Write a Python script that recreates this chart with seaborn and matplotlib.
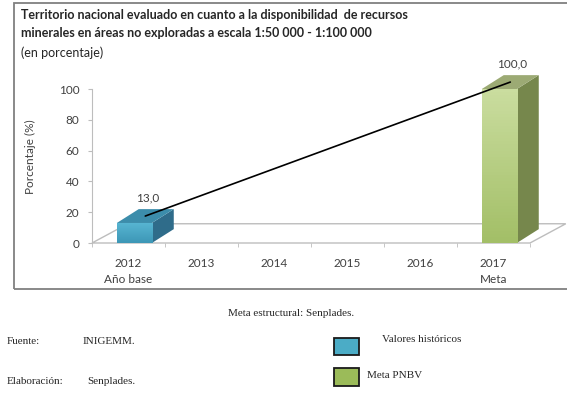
import seaborn as sns
import matplotlib.pyplot as plt
import pandas as pd
import numpy as np
from matplotlib.patches import Polygon, Rectangle
from matplotlib.colors import LinearSegmentedColormap

years = ['2012', '2013', '2014', '2015', '2016', '2017']
year_notes = ['Año base', '', '', '', '', 'Meta']
bar_years = ['2012', '2017']
bar_values = [13.0, 100.0]
bar_series = ['Valores históricos', 'Meta PNBV']
bar_labels = ['13,0', '100,0']
y_ticks = [0, 20, 40, 60, 80, 100]

# colours for the fake 3d boxes: front (top, bottom), top face, side face
front_cols = {'Valores históricos': ('#58b6d3', '#3d97b6'), 'Meta PNBV': ('#cadd9f', '#a3bf67')}
top_cols = {'Valores históricos': '#3c8dab', 'Meta PNBV': '#9caa74'}
side_cols = {'Valores históricos': '#2f6c8a', 'Meta PNBV': '#76874c'}
legend_cols = {'Valores históricos': '#4bacc6', 'Meta PNBV': '#9bbb59'}

sns.set_style('white')
plt.rcParams['font.family'] = ['Lato', 'DejaVu Sans']

fig = plt.figure(figsize=(5.67, 3.94), dpi=100)
ax = fig.add_axes([92 / 567, 151 / 394, 438 / 567, 154 / 394])

df = pd.DataFrame({'year': bar_years, 'value': bar_values, 'serie': bar_series})
sns.barplot(data=df, x='year', y='value', hue='serie', order=years, dodge=False,
            palette=legend_cols, width=0.48, legend=False, ax=ax, zorder=3)

ax.set_xlim(-0.5, 5.5)
ax.set_ylim(0, 100)

# depth of the boxes / floor, in data units
ddx, ddy = 0.30, 9.0
fdx, fdy = 0.49, 12.5
shift = 0.08

floor = Polygon([(-0.5, 0), (5.5, 0), (5.5 + fdx, fdy), (-0.5 + fdx, fdy)], closed=True,
                facecolor='white', edgecolor='#bdbdbd', lw=1.0, clip_on=False, zorder=1)
ax.add_patch(floor)

tops = []
for p in ax.patches:
    if p is floor or p.get_height() == 0 or np.isnan(p.get_height()):
        continue
    x0 = p.get_x() + shift
    p.set_x(x0)
    w, h = p.get_width(), p.get_height()
    serie = bar_series[bar_values.index(h)]
    p.set_edgecolor('none')
    cmap = LinearSegmentedColormap.from_list('g', [front_cols[serie][1], front_cols[serie][0]])
    img = ax.imshow(np.linspace(0, 1, 50).reshape(-1, 1), extent=[x0, x0 + w, 0, h], origin='lower',
                    aspect='auto', cmap=cmap, zorder=3.5)
    img.set_clip_path(p)
    ax.add_patch(Polygon([(x0 + w, 0), (x0 + w + ddx, ddy), (x0 + w + ddx, h + ddy), (x0 + w, h)],
                         closed=True, facecolor=side_cols[serie], edgecolor='none', clip_on=False, zorder=3))
    ax.add_patch(Polygon([(x0, h), (x0 + w, h), (x0 + w + ddx, h + ddy), (x0 + ddx, h + ddy)],
                         closed=True, facecolor=top_cols[serie], edgecolor='none', clip_on=False, zorder=3))
    tops.append((x0 + w / 2 + ddx / 2, h + ddy / 2))

ax.set_xlim(-0.5, 5.5)
ax.set_ylim(0, 100)

# trend line between the tops of both boxes
tx = [t[0] for t in tops]
ty = [t[1] for t in tops]
ax.plot(tx, ty, color='black', lw=1.2, clip_on=False, zorder=6)

for (x, y), lab in zip(tops, bar_labels):
    ax.text(x + 0.03, y + ddy / 2 + 7, lab, ha='center', va='center', fontsize=8.5,
            color='#404040', zorder=7)

sns.despine(ax=ax, bottom=True)
ax.spines['left'].set_color('#bdbdbd')
ax.set_yticks(y_ticks)
ax.set_yticklabels([str(v) for v in y_ticks])
ax.tick_params(axis='y', left=True, length=3, color='#bdbdbd', labelsize=8.5, labelcolor='#404040', pad=6)
ax.set_xticks(range(len(years)))
ax.set_xticklabels([y + ('\n' + n if n else '') for y, n in zip(years, year_notes)],
                   fontsize=8.5, color='#404040', va='top', linespacing=1.5)
ax.set_xticks(np.arange(-0.5, 6, 1), minor=True)
ax.tick_params(axis='x', which='major', length=0, pad=11)
ax.tick_params(axis='x', which='minor', bottom=True, length=3, color='#bdbdbd')
ax.set_xlabel('')
ax.set_ylabel('Porcentaje (%)', fontsize=8.5, color='#404040')
ax.yaxis.set_label_coords(-0.128, 0.56)

# outer frame and titles
fig.patches.append(Rectangle((14 / 567, 105 / 394), 1.0, 286 / 394, transform=fig.transFigure,
                             fill=False, edgecolor='#808080', lw=1.3))
fig.text(21 / 567, 1 - 15 / 394, 'Territorio nacional evaluado en cuanto a la disponibilidad  de recursos',
         fontsize=9, fontweight='bold', color='#262626', va='center')
fig.text(21 / 567, 1 - 33 / 394, 'minerales en áreas no exploradas a escala 1:50 000 - 1:100 000',
         fontsize=9, fontweight='bold', color='#262626', va='center')
fig.text(21 / 567, 1 - 53 / 394, '(en porcentaje)', fontsize=9, color='#262626', va='center')

# notes and legend below the frame
serif = ['Liberation Serif', 'DejaVu Serif']
fig.text(291 / 567, 1 - 313 / 394, 'Meta estructural: Senplades.', family=serif, fontsize=8,
         ha='center', va='center', color='#262626')
fig.text(7 / 567, 1 - 341 / 394, 'Fuente:', family=serif, fontsize=8, va='center', color='#262626')
fig.text(83 / 567, 1 - 341 / 394, 'INIGEMM.', family=serif, fontsize=8, va='center', color='#262626')
fig.text(7 / 567, 1 - 382 / 394, 'Elaboración:', family=serif, fontsize=8, va='center', color='#262626')
fig.text(87 / 567, 1 - 382 / 394, 'Senplades.', family=serif, fontsize=8, va='center', color='#262626')

legend_y = [(338, 355, 340, 382), (368, 386, 376, 367)]
for serie, (top, bot, ty_, tx_) in zip(bar_series, legend_y):
    fig.patches.append(Rectangle((334 / 567, 1 - bot / 394), 25 / 567, (bot - top) / 394,
                                 transform=fig.transFigure, facecolor=legend_cols[serie],
                                 edgecolor='#1a1a1a', lw=1.3))
    fig.text(tx_ / 567, 1 - ty_ / 394, serie, family=serif, fontsize=8, va='center', color='#262626')

fig.savefig('out.png', dpi=100)
